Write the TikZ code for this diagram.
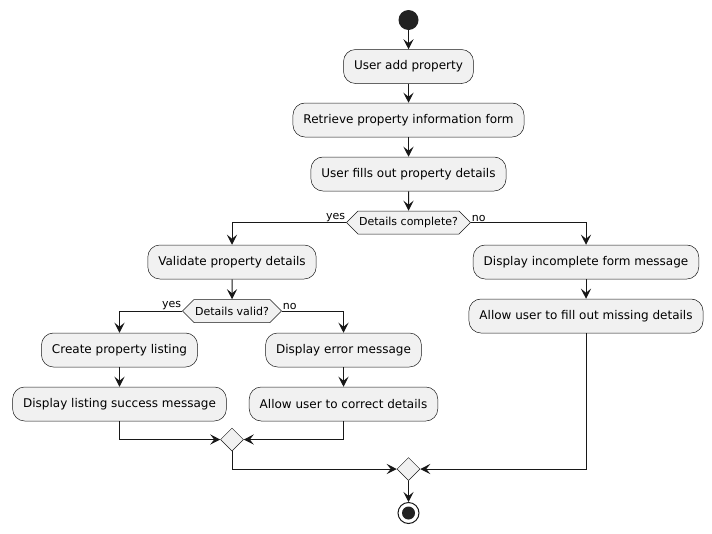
\documentclass[tikz,border=0pt]{standalone}
\usepackage{fontspec}
\setmainfont{DejaVu Sans}
\usetikzlibrary{shapes.geometric,shapes.symbols,arrows.meta}
\definecolor{fillc}{HTML}{F1F1F1}
\definecolor{linec}{HTML}{181818}
\definecolor{dotc}{HTML}{222222}
\begin{document}
\begin{tikzpicture}[x=1pt,y=-1pt,
 act/.style={draw=linec, line width=0.5pt, fill=fillc, rounded corners=12pt, minimum height=34pt, inner xsep=10.5pt, font=\fontsize{12}{14}\selectfont, text=black},
 dec/.style={signal, signal to=west and east, signal pointer angle=90, draw=linec, line width=0.5pt, fill=fillc, minimum height=23pt, inner xsep=1pt, inner ysep=0pt, font=\fontsize{11}{13}\selectfont},
 merge/.style={diamond, draw=linec, line width=0.5pt, fill=fillc, minimum width=23pt, minimum height=23pt, inner sep=0pt},
 flow/.style={draw=linec, line width=1pt, -{Stealth[length=10pt,width=10pt,inset=4pt]}},
 lbl/.style={font=\fontsize{11}{13}\selectfont, inner sep=1pt}]
\useasboundingbox[fill=white] (0,0) rectangle (712,533);
\node[circle, fill=dotc, minimum size=20pt, inner sep=0pt] (start) at (408.5,20) {};
\node[act] (a1) at (408.5,66.5) {User add property};
\node[act] (a2) at (408.5,120) {Retrieve property information form};
\node[act] (a3) at (408.5,174) {User fills out property details};
\node[dec] (d1) at (408.5,222.5) {Details complete?};
\node[act] (b1) at (232,262) {Validate property details};
\node[dec] (d2) at (232,311) {Details valid?};
\node[act] (c1) at (119.5,350) {Create property listing};
\node[act] (c2) at (119.5,404) {Display listing success message};
\node[act] (e1) at (343.5,350) {Display error message};
\node[act] (e2) at (343.5,404) {Allow user to correct details};
\node[merge] (m1) at (232,439.5) {};
\node[act] (f1) at (586,262) {Display incomplete form message};
\node[act] (f2) at (586,316) {Allow user to fill out missing details};
\node[merge] (m2) at (408.5,469) {};
\node[circle, draw=linec, line width=1pt, minimum size=21pt, inner sep=0pt] (end) at (408.5,513) {};
\node[circle, fill=dotc, minimum size=13pt, inner sep=0pt] (endin) at (end) {};
\node[lbl, anchor=south east] (ly1) at (d1.west) {yes};
\node[lbl, anchor=south west] (ln1) at (d1.east) {no};
\node[lbl, anchor=south east] (ly2) at (d2.west) {yes};
\node[lbl, anchor=south west] (ln2) at (d2.east) {no};
\draw[flow] (start) -- (a1);
\draw[flow] (a1) -- (a2);
\draw[flow] (a2) -- (a3);
\draw[flow] (a3) -- (d1);
\draw[flow] (d1.west) -| (b1.north);
\draw[flow] (d1.east) -| (f1.north);
\draw[flow] (b1) -- (d2);
\draw[flow] (d2.west) -| (c1.north);
\draw[flow] (d2.east) -| (e1.north);
\draw[flow] (c1) -- (c2);
\draw[flow] (e1) -- (e2);
\draw[flow] (c2.south) |- (m1.west);
\draw[flow] (e2.south) |- (m1.east);
\draw[flow] (f1) -- (f2);
\draw[flow] (m1.south) |- (m2.west);
\draw[flow] (f2.south) |- (m2.east);
\draw[flow] (m2) -- (end);
\end{tikzpicture}
\end{document}
